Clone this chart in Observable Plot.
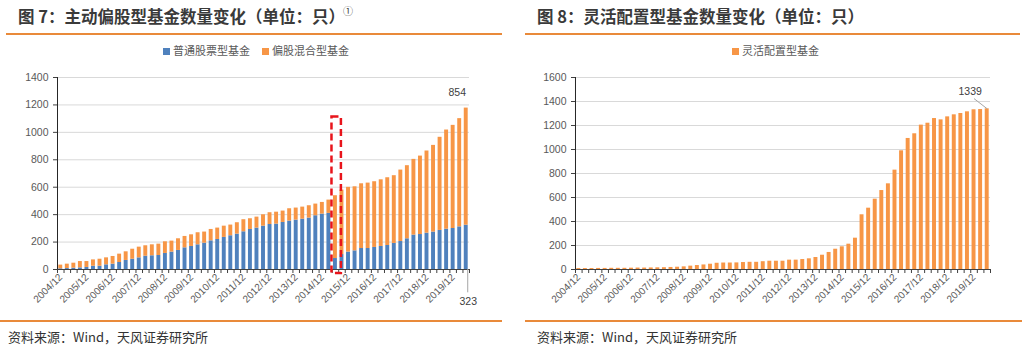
<!DOCTYPE html>
<html><head><meta charset="utf-8">
<script src="https://cdn.jsdelivr.net/npm/d3@7"></script>
<script src="https://cdn.jsdelivr.net/npm/@observablehq/plot@0.6"></script>
<style>
body{margin:0;background:#fff;width:1024px;height:351px;overflow:hidden;position:relative;font-family:"Noto Sans CJK SC","Microsoft YaHei",sans-serif;}
.abs{position:absolute;white-space:nowrap}
.title{font-weight:bold;font-size:16.5px;color:#3a3a3a;line-height:20px}
.sup{font-size:10px;vertical-align:top;position:relative;top:-5px;margin-left:-2px;font-weight:normal}
.hline{position:absolute;height:2px;background:#E98A3A}
.leg{font-size:11px;color:#595959;line-height:14px}
.sw{display:inline-block;width:7px;height:7px;margin-right:3px;vertical-align:0px}
.src{font-size:13px;color:#333;line-height:16px}
</style></head>
<body>
<div class="abs title" style="left:18px;top:6px">图 7：主动偏股型基金数量变化（单位：只）<span class="sup">①</span></div>
<div class="abs title" style="left:537px;top:6px">图 8：灵活配置型基金数量变化（单位：只）</div>
<div class="hline" style="left:6px;top:33px;width:496px"></div>
<div class="hline" style="left:525px;top:33px;width:495px"></div>
<div class="hline" style="left:0px;top:320px;width:502px"></div>
<div class="hline" style="left:525px;top:320px;width:497px"></div>
<div class="abs leg" style="left:163px;top:43px"><span class="sw" style="background:#4F81BD"></span>普通股票型基金</div>
<div class="abs leg" style="left:262px;top:43px"><span class="sw" style="background:#F79646"></span>偏股混合型基金</div>
<div class="abs leg" style="left:732px;top:43px"><span class="sw" style="background:#F79646"></span>灵活配置型基金</div>
<div class="abs src" style="left:8px;top:329px">资料来源：Wind，天风证券研究所</div>
<div class="abs src" style="left:537px;top:329px">资料来源：Wind，天风证券研究所</div>
<div id="c1" class="abs" style="left:0;top:0"></div>
<div id="c2" class="abs" style="left:512px;top:0"></div>
<script>
const quarters = ["2004/12","2005/03","2005/06","2005/09","2005/12","2006/03","2006/06","2006/09","2006/12","2007/03","2007/06","2007/09","2007/12","2008/03","2008/06","2008/09","2008/12","2009/03","2009/06","2009/09","2009/12","2010/03","2010/06","2010/09","2010/12","2011/03","2011/06","2011/09","2011/12","2012/03","2012/06","2012/09","2012/12","2013/03","2013/06","2013/09","2013/12","2014/03","2014/06","2014/09","2014/12","2015/03","2015/06","2015/09","2015/12","2016/03","2016/06","2016/09","2016/12","2017/03","2017/06","2017/09","2017/12","2018/03","2018/06","2018/09","2018/12","2019/03","2019/06","2019/09","2019/12","2020/03","2020/06"];
const tickLabels = ["2004/12","2005/12","2006/12","2007/12","2008/12","2009/12","2010/12","2011/12","2012/12","2013/12","2014/12","2015/12","2016/12","2017/12","2018/12","2019/12"];
const seriesLeft = ["普通股票型基金","偏股混合型基金"];
const stockFunds = [5,7,10,12,15,24,24,34,39,51,66,75,85,97,100,102,117,127,139,158,168,180,192,209,219,234,246,258,275,292,302,316,328,331,343,353,360,367,375,392,404,409,80,109,127,136,153,153,161,168,175,190,204,224,251,255,265,273,285,294,299,311,323];
const mixedFunds = [27,32,36,46,43,46,51,51,56,61,63,73,78,76,80,83,85,80,85,83,85,88,81,83,83,82,78,83,88,78,80,83,86,87,83,90,88,88,90,85,85,97,458,470,472,467,472,477,479,486,494,494,521,533,552,572,599,632,679,723,752,789,854];
const flexFunds = [8,8,8,9,9,10,10,10,11,12,12,13,14,15,17,19,22,28,33,38,44,52,54,54,55,58,60,60,65,69,69,69,78,78,83,89,100,119,142,169,189,211,261,456,511,586,658,714,828,989,1092,1131,1203,1219,1258,1247,1272,1289,1300,1314,1331,1333,1339];
const yTicksLeft = [0,200,400,600,800,1000,1200,1400];
const yTicksRight = [0,200,400,600,800,1000,1200,1400,1600];
const seriesRight = "灵活配置型基金";
const highlight = "2015/06";

const BLUE="#4F81BD", ORANGE="#F79646", GRID="#d9d9d9", AX="#595959";
const numFont = '"Liberation Sans", Arial, sans-serif';

function axisRules(step, yUnder, y2, last){
  return [
    Plot.ruleX(quarters, {y1:0, y2:yUnder, dx:-step/2, stroke:"#404040", strokeWidth:1}),
    Plot.ruleX([last], {y1:0, y2:yUnder, dx:step/2, stroke:"#404040", strokeWidth:1}),
    Plot.ruleX([quarters[0]], {y1:0, y2:y2, dx:-step/2, stroke:"#262626", strokeWidth:1}),
    Plot.ruleY([0], {stroke:"#404040", strokeWidth:1})
  ];
}

// Left chart
const rowsL = [];
quarters.forEach((q,i)=>{
  rowsL.push({q, s:seriesLeft[0], v:stockFunds[i]});
  rowsL.push({q, s:seriesLeft[1], v:mixedFunds[i]});
});
const last = quarters[quarters.length-1];
const n = quarters.length;
const mL=57, mR=43, WL=512, HL=320, mT=77, mB=51;
const stepL = (WL-mL-mR)/n;
const pxPerL = (HL-mT-mB)/1400;
const totalLast = stockFunds[n-1]+mixedFunds[n-1];
const fmt = d => String(d);
const c1 = Plot.plot({
  width:WL, height:HL, marginLeft:mL, marginRight:mR, marginTop:mT, marginBottom:mB,
  style:{fontFamily:numFont, fontSize:"10px", color:AX, background:"transparent", overflow:"visible"},
  x:{type:"band", domain:quarters, paddingInner:0.4, paddingOuter:0.2, axis:null},
  y:{domain:[0,1400], axis:null},
  color:{domain:seriesLeft, range:[BLUE, ORANGE]},
  marks:[
    Plot.gridY(yTicksLeft, {stroke:GRID, strokeOpacity:1, strokeWidth:1}),
    Plot.barY(rowsL, {x:"q", y:"v", fill:"s"}),
    ...axisRules(stepL, -4/pxPerL, 1400, last),
    Plot.axisY(yTicksLeft, {tickSize:4, tickPadding:5, fontSize:10.5, stroke:"#404040", fill:AX, tickFormat:fmt, label:null}),
    Plot.axisX(tickLabels, {tickSize:0, tickPadding:6, tickRotate:-45, fontSize:10, fill:AX, label:null}),
    Plot.barY([highlight], {x:d=>d, y1:-30, y2:1112, fill:"none", stroke:"#E8141B", strokeWidth:2.5, strokeDasharray:"7,4", insetLeft:-1.5, insetRight:-4}),
    Plot.text([last], {x:d=>d, y:totalLast, text:()=>String(mixedFunds[n-1]), dy:-15, dx:-9, fontSize:10.5, fill:"#404040"}),
    Plot.ruleX([last], {y1:0, y2:-170, dx:1.5, stroke:"#a6a6a6"}),
    Plot.text([last], {x:d=>d, y:-232, text:()=>String(stockFunds[n-1]), dx:2, fontSize:10.5, fill:"#404040"})
  ]
});
document.getElementById("c1").appendChild(c1);

// Right chart
const mL2=63, mR2=34;
const stepR = (WL-mL2-mR2)/n;
const pxPerR = (HL-mT-mB)/1600;
const rowsR = quarters.map((q,i)=>({q, s:seriesRight, v:flexFunds[i]}));
const c2 = Plot.plot({
  width:WL, height:HL, marginLeft:mL2, marginRight:mR2, marginTop:mT, marginBottom:mB,
  style:{fontFamily:numFont, fontSize:"10px", color:AX, background:"transparent", overflow:"visible"},
  x:{type:"band", domain:quarters, paddingInner:0.4, paddingOuter:0.2, axis:null},
  y:{domain:[0,1600], axis:null},
  marks:[
    Plot.gridY(yTicksRight, {stroke:GRID, strokeOpacity:1, strokeWidth:1}),
    Plot.barY(rowsR, {x:"q", y:"v", fill:ORANGE}),
    ...axisRules(stepR, -4/pxPerR, 1600, last),
    Plot.axisY(yTicksRight, {tickSize:4, tickPadding:5, fontSize:10.5, stroke:"#404040", fill:AX, tickFormat:fmt, label:null}),
    Plot.axisX(tickLabels, {tickSize:0, tickPadding:6, tickRotate:-45, fontSize:10, fill:AX, label:null}),
    Plot.link([0], {x1:()=>quarters[n-3], x2:()=>last, y1:flexFunds[n-1]+85, y2:flexFunds[n-1], stroke:"#a6a6a6", strokeWidth:1}),
    Plot.text([last], {x:d=>d, y:flexFunds[n-1], text:()=>String(flexFunds[n-1]), dy:-17, dx:-17, fontSize:10.5, fill:"#404040"})
  ]
});
document.getElementById("c2").appendChild(c2);
</script>
</body></html>
